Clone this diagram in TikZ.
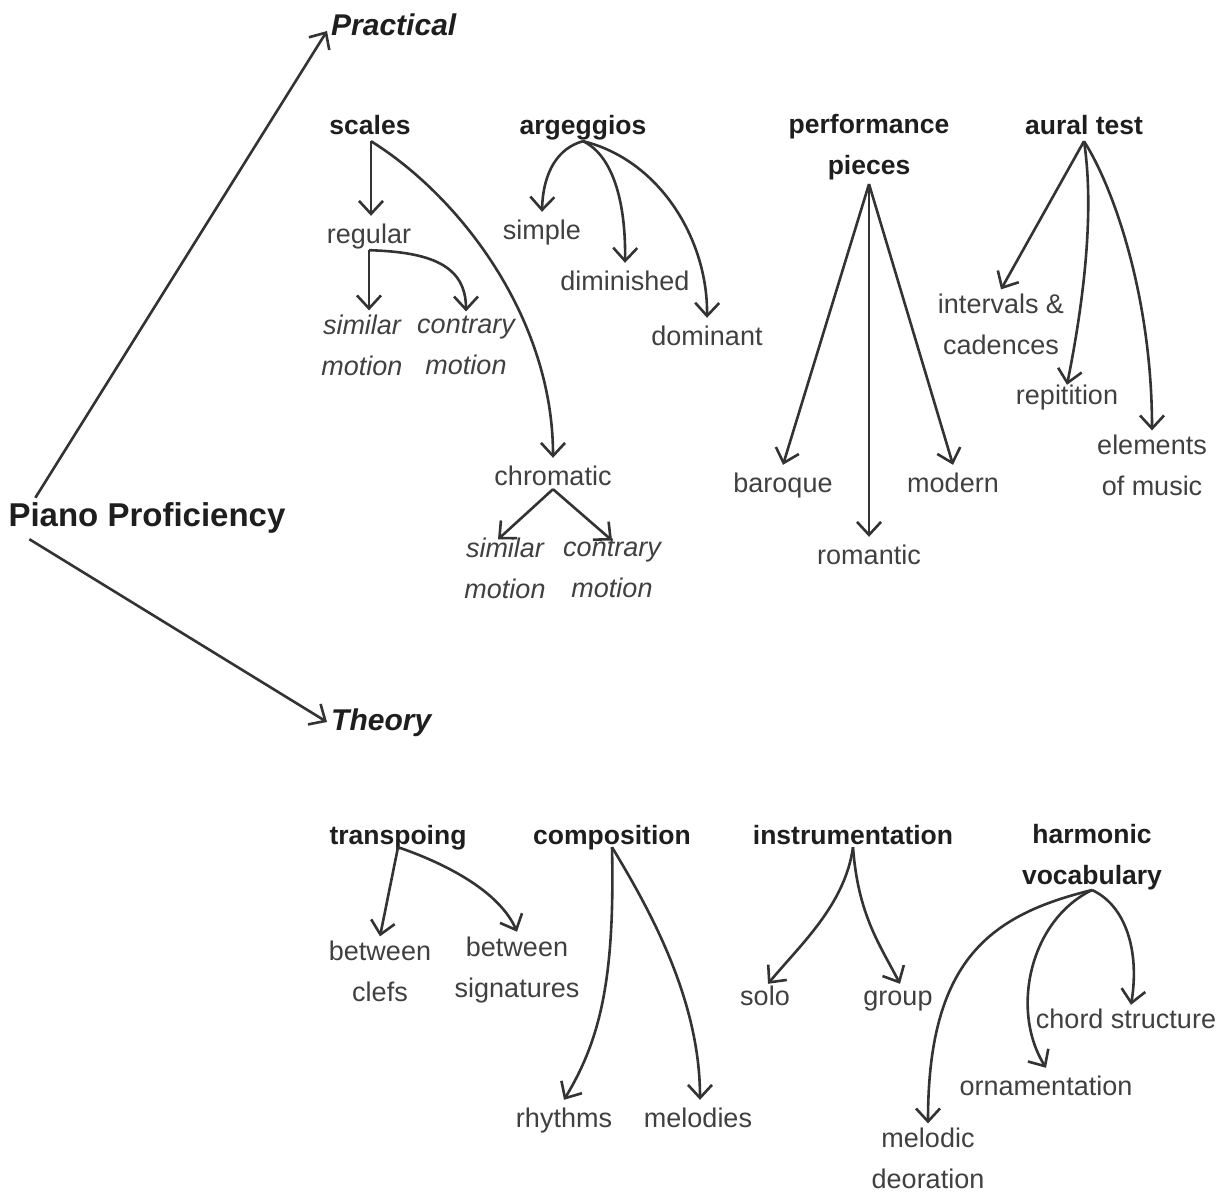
\documentclass[tikz,border=0pt]{standalone}
\usepackage{fontspec}
\setmainfont{Liberation Sans}
\usetikzlibrary{arrows.meta}
\definecolor{ink}{HTML}{333333}
\definecolor{txt}{HTML}{404040}
\definecolor{head}{HTML}{1E1E1E}
\begin{document}
\begin{tikzpicture}[x=1pt,y=-1pt,
  base/.style={inner sep=4pt, font=\fontsize{27}{41}\selectfont, text=txt},
  one/.style={base, text height=23.5pt, text depth=2.5pt},
  two/.style={base, align=center},
  hd/.style={one, font=\fontsize{26.5}{41}\selectfont\bfseries, text=head},
  hdtwo/.style={two, font=\fontsize{26.5}{41}\selectfont\bfseries, text=head},
  it/.style={two, font=\fontsize{27}{41}\selectfont\itshape},
  arr/.style={draw=ink, line width=2.6pt, -{Straight Barb[length=13pt,width=24pt,line width=2.6pt]}}
]
\useasboundingbox[fill=white] (0,0) rectangle (1228,1193);

% top level
\node[one, font=\fontsize{33}{40}\selectfont\bfseries, text=head] (pp) at (147,516) {Piano Proficiency};
\node[one, anchor=west, font=\fontsize{30}{40}\selectfont\bfseries\itshape, text=head] (practical) at (327,25) {Practical};
\node[one, anchor=west, font=\fontsize{30}{40}\selectfont\bfseries\itshape, text=head] (theory) at (327,720) {Theory};
\draw[arr] ([xshift=31,yshift=1]pp.north west) -- ([yshift=-6]practical.west);
\draw[arr] ([xshift=25,yshift=-6]pp.south west) -- ([yshift=-2]theory.west);

% practical
\node[hd] (scales) at (370,124) {scales};
\node[hd] (arg) at (583,124) {argeggios};
\node[hdtwo] (perf) at (869,147) {performance\\pieces};
\node[hd] (aural) at (1084,124) {aural test};

\node[one] (regular) at (369,233) {regular};
\node[it] (sim1) at (362,345) {similar\\motion};
\node[it] (con1) at (466,345) {contrary\\motion};
\node[one] (simple) at (542,229) {simple};
\node[one] (dimin) at (625,280) {diminished};
\node[one] (domin) at (707,335) {dominant};
\node[one] (chrom) at (553,475) {chromatic};
\node[it] (sim2) at (505,568) {similar\\motion};
\node[it] (con2) at (612,568) {contrary\\motion};
\node[one] (baroque) at (783,482) {baroque};
\node[one] (romantic) at (869,554) {romantic};
\node[one] (modern) at (953,482) {modern};
\node[two] (interv) at (1001,324) {intervals \&\\cadences};
\node[one] (repit) at (1067,394) {repitition};
\node[two] (elem) at (1152,465) {elements\\of music};

\draw[arr] ([xshift=1]scales.south) -- ([xshift=1]scales.south |- regular.north);
\draw[arr] ([xshift=1]scales.south) .. controls (462,198) and (553,320) .. (chrom.north);
\draw[arr] (regular.south) -- (regular.south |- sim1.north);
\draw[arr] (regular.south) .. controls (430,252) and (466,265) .. (con1.north);
\draw[arr] (arg.south) .. controls (558,148) and (543,172) .. (simple.north);
\draw[arr] (arg.south) .. controls (612,155) and (626,200) .. (dimin.north);
\draw[arr] (arg.south) .. controls (660,160) and (708,240) .. (domin.north);
\draw[arr] ([yshift=3]chrom.south) -- ([xshift=-7,yshift=-6]sim2.north);
\draw[arr] ([yshift=3]chrom.south) -- ([yshift=-6]con2.north);
\draw[arr] (perf.south) -- (baroque.north);
\draw[arr] (perf.south) -- (romantic.north);
\draw[arr] (perf.south) -- (modern.north);
\draw[arr] (aural.south) -- (interv.north);
\draw[arr] (aural.south) .. controls (1096,220) and (1080,320) .. ([yshift=-8]repit.north);
\draw[arr] (aural.south) .. controls (1115,190) and (1152,300) .. (elem.north);

% theory
\node[hd] (transp) at (398,834) {transpoing};
\node[hd] (compo) at (612,834) {composition};
\node[hd] (instr) at (853,834) {instrumentation};
\node[hdtwo] (harm) at (1092,857) {harmonic\\vocabulary};

\node[two] (clefs) at (380,971) {between\\clefs};
\node[two] (signat) at (517,970) {between\\signatures};
\node[one] (rhythms) at (564,1117) {rhythms};
\node[one] (melodies) at (698,1117) {melodies};
\node[one] (solo) at (765,995) {solo};
\node[one] (group) at (898,995) {group};
\node[one] (chord) at (1126,1018) {chord structure};
\node[one] (ornam) at (1046,1085) {ornamentation};
\node[two] (melodic) at (928,1158) {melodic\\deoration};

\draw[arr] ([yshift=4]transp.south) -- (clefs.north);
\draw[arr] ([yshift=4]transp.south) .. controls (450,865) and (500,893) .. ([yshift=1]signat.north);
\draw[arr] ([yshift=4]compo.south) .. controls (615,980) and (600,1040) .. (rhythms.north);
\draw[arr] ([yshift=4]compo.south) .. controls (650,910) and (700,1000) .. ([xshift=2]melodies.north);
\draw[arr] ([yshift=4]instr.south) .. controls (845,905) and (800,945) .. ([xshift=3,yshift=-6]solo.north);
\draw[arr] ([yshift=4]instr.south) .. controls (858,915) and (880,945) .. ([xshift=2,yshift=-6]group.north);
\draw[arr] ([yshift=4]harm.south) .. controls (990,915) and (928,960) .. (melodic.north);
\draw[arr] ([yshift=4]harm.south) .. controls (1030,920) and (1010,1010) .. (ornam.north);
\draw[arr] ([yshift=4]harm.south) .. controls (1125,905) and (1140,950) .. ([xshift=5,yshift=-4]chord.north);
\end{tikzpicture}
\end{document}
